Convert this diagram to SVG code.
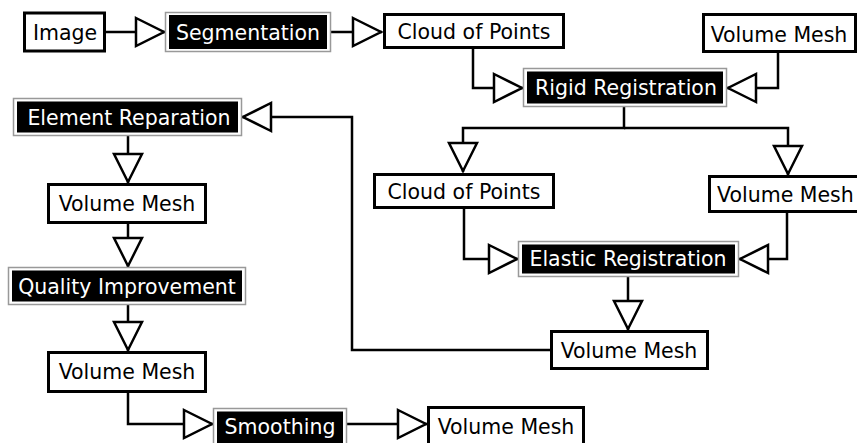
<svg xmlns="http://www.w3.org/2000/svg" width="857" height="443" viewBox="0 0 857 443">
<style>
  .wb { fill: #fff; stroke: #000; stroke-width: 3; }
  .go { fill: #fff; stroke: #999; stroke-width: 1.5; }
  .bk { fill: #000; stroke: none; }
  .tw { font-family: "DejaVu Sans", sans-serif; font-size: 20.5px; fill: #000; text-anchor: middle; }
  .tb { font-family: "DejaVu Sans", sans-serif; font-size: 20.5px; fill: #fff; text-anchor: middle; }
  .cn { fill: none; stroke: #000; stroke-width: 2.5; marker-end: url(#tri); }
</style>
<defs>
  <marker id="tri" markerUnits="userSpaceOnUse" viewBox="-3 -3 36 34" markerWidth="36" markerHeight="34" refX="29" refY="14" orient="auto" overflow="visible">
    <path d="M0,0 L28,14 L0,28 Z" fill="#fff" stroke="#000" stroke-width="2.5"/>
  </marker>
</defs>
<rect width="857" height="443" fill="#fff"/>
<g id="connectors">
  <path class="cn" d="M106,32 H165"/>
  <path class="cn" d="M331,32 H382"/>
  <path class="cn" d="M473,49 V88 H523"/>
  <path class="cn" d="M778,53 V88 H727"/>
  <path class="cn" d="M624,107 V128 H463 V172"/>
  <path class="cn" d="M624,128 H788 V175"/>
  <path class="cn" d="M464,209 V259 H518"/>
  <path class="cn" d="M787,213 V259 H739"/>
  <path class="cn" d="M628,277 V330"/>
  <path class="cn" d="M550,350 H352 V117 H242"/>
  <path class="cn" d="M128,136 V183"/>
  <path class="cn" d="M128,224 V267"/>
  <path class="cn" d="M128,305 V351"/>
  <path class="cn" d="M128,393 V424 H213"/>
  <path class="cn" d="M347,424 H427"/>
</g>
<g id="image">
  <rect class="wb" x="24.5" y="13" width="80" height="38"/>
  <text class="tw" x="65" y="39.5">Image</text>
</g>
<g id="segmentation">
  <rect class="go" x="165.5" y="12.5" width="165" height="39"/>
  <rect class="bk" x="169" y="15" width="158" height="34"/>
  <text class="tb" x="248" y="39.5">Segmentation</text>
</g>
<g id="cloud1">
  <rect class="wb" x="384.5" y="14.5" width="179" height="33"/>
  <text class="tw" x="474" y="38.5">Cloud of Points</text>
</g>
<g id="volmesh1">
  <rect class="wb" x="703.5" y="14.5" width="152" height="37"/>
  <text class="tw" x="779" y="42">Volume Mesh</text>
</g>
<g id="rigid">
  <rect class="go" x="523.5" y="68.5" width="203" height="38"/>
  <rect class="bk" x="527" y="71.5" width="196" height="32"/>
  <text class="tb" x="626" y="95">Rigid Registration</text>
</g>
<g id="elemrep">
  <rect class="go" x="13.5" y="98.5" width="228" height="37"/>
  <rect class="bk" x="17" y="101.5" width="221" height="31"/>
  <text class="tb" x="129" y="124.5">Element Reparation</text>
</g>
<g id="cloud2">
  <rect class="wb" x="374.5" y="174.5" width="179" height="33"/>
  <text class="tw" x="464" y="199">Cloud of Points</text>
</g>
<g id="volmesh2">
  <rect class="wb" x="709.5" y="176.5" width="160" height="35"/>
  <text class="tw" x="717" y="202" style="text-anchor:start">Volume Mesh</text>
</g>
<g id="elastic">
  <rect class="go" x="518.5" y="241.5" width="220" height="35"/>
  <rect class="bk" x="522" y="244.5" width="213" height="29"/>
  <text class="tb" x="628" y="266">Elastic Registration</text>
</g>
<g id="volmesh3">
  <rect class="wb" x="551.5" y="331.5" width="156" height="37"/>
  <text class="tw" x="629" y="357.5">Volume Mesh</text>
</g>
<g id="volmesh4">
  <rect class="wb" x="48.5" y="184.5" width="157" height="38"/>
  <text class="tw" x="127" y="211">Volume Mesh</text>
</g>
<g id="quality">
  <rect class="go" x="8.5" y="267.5" width="237" height="37"/>
  <rect class="bk" x="12" y="270.5" width="230" height="31"/>
  <text class="tb" x="127" y="293.5">Quality Improvement</text>
</g>
<g id="volmesh5">
  <rect class="wb" x="48.5" y="352.5" width="157" height="39"/>
  <text class="tw" x="127" y="378.5">Volume Mesh</text>
</g>
<g id="smoothing">
  <rect class="go" x="213.5" y="408.5" width="133" height="40"/>
  <rect class="bk" x="217" y="411.5" width="126" height="34"/>
  <text class="tb" x="280" y="433.5">Smoothing</text>
</g>
<g id="volmesh6">
  <rect class="wb" x="428.5" y="407.5" width="155" height="40"/>
  <text class="tw" x="506" y="434">Volume Mesh</text>
</g>
</svg>
